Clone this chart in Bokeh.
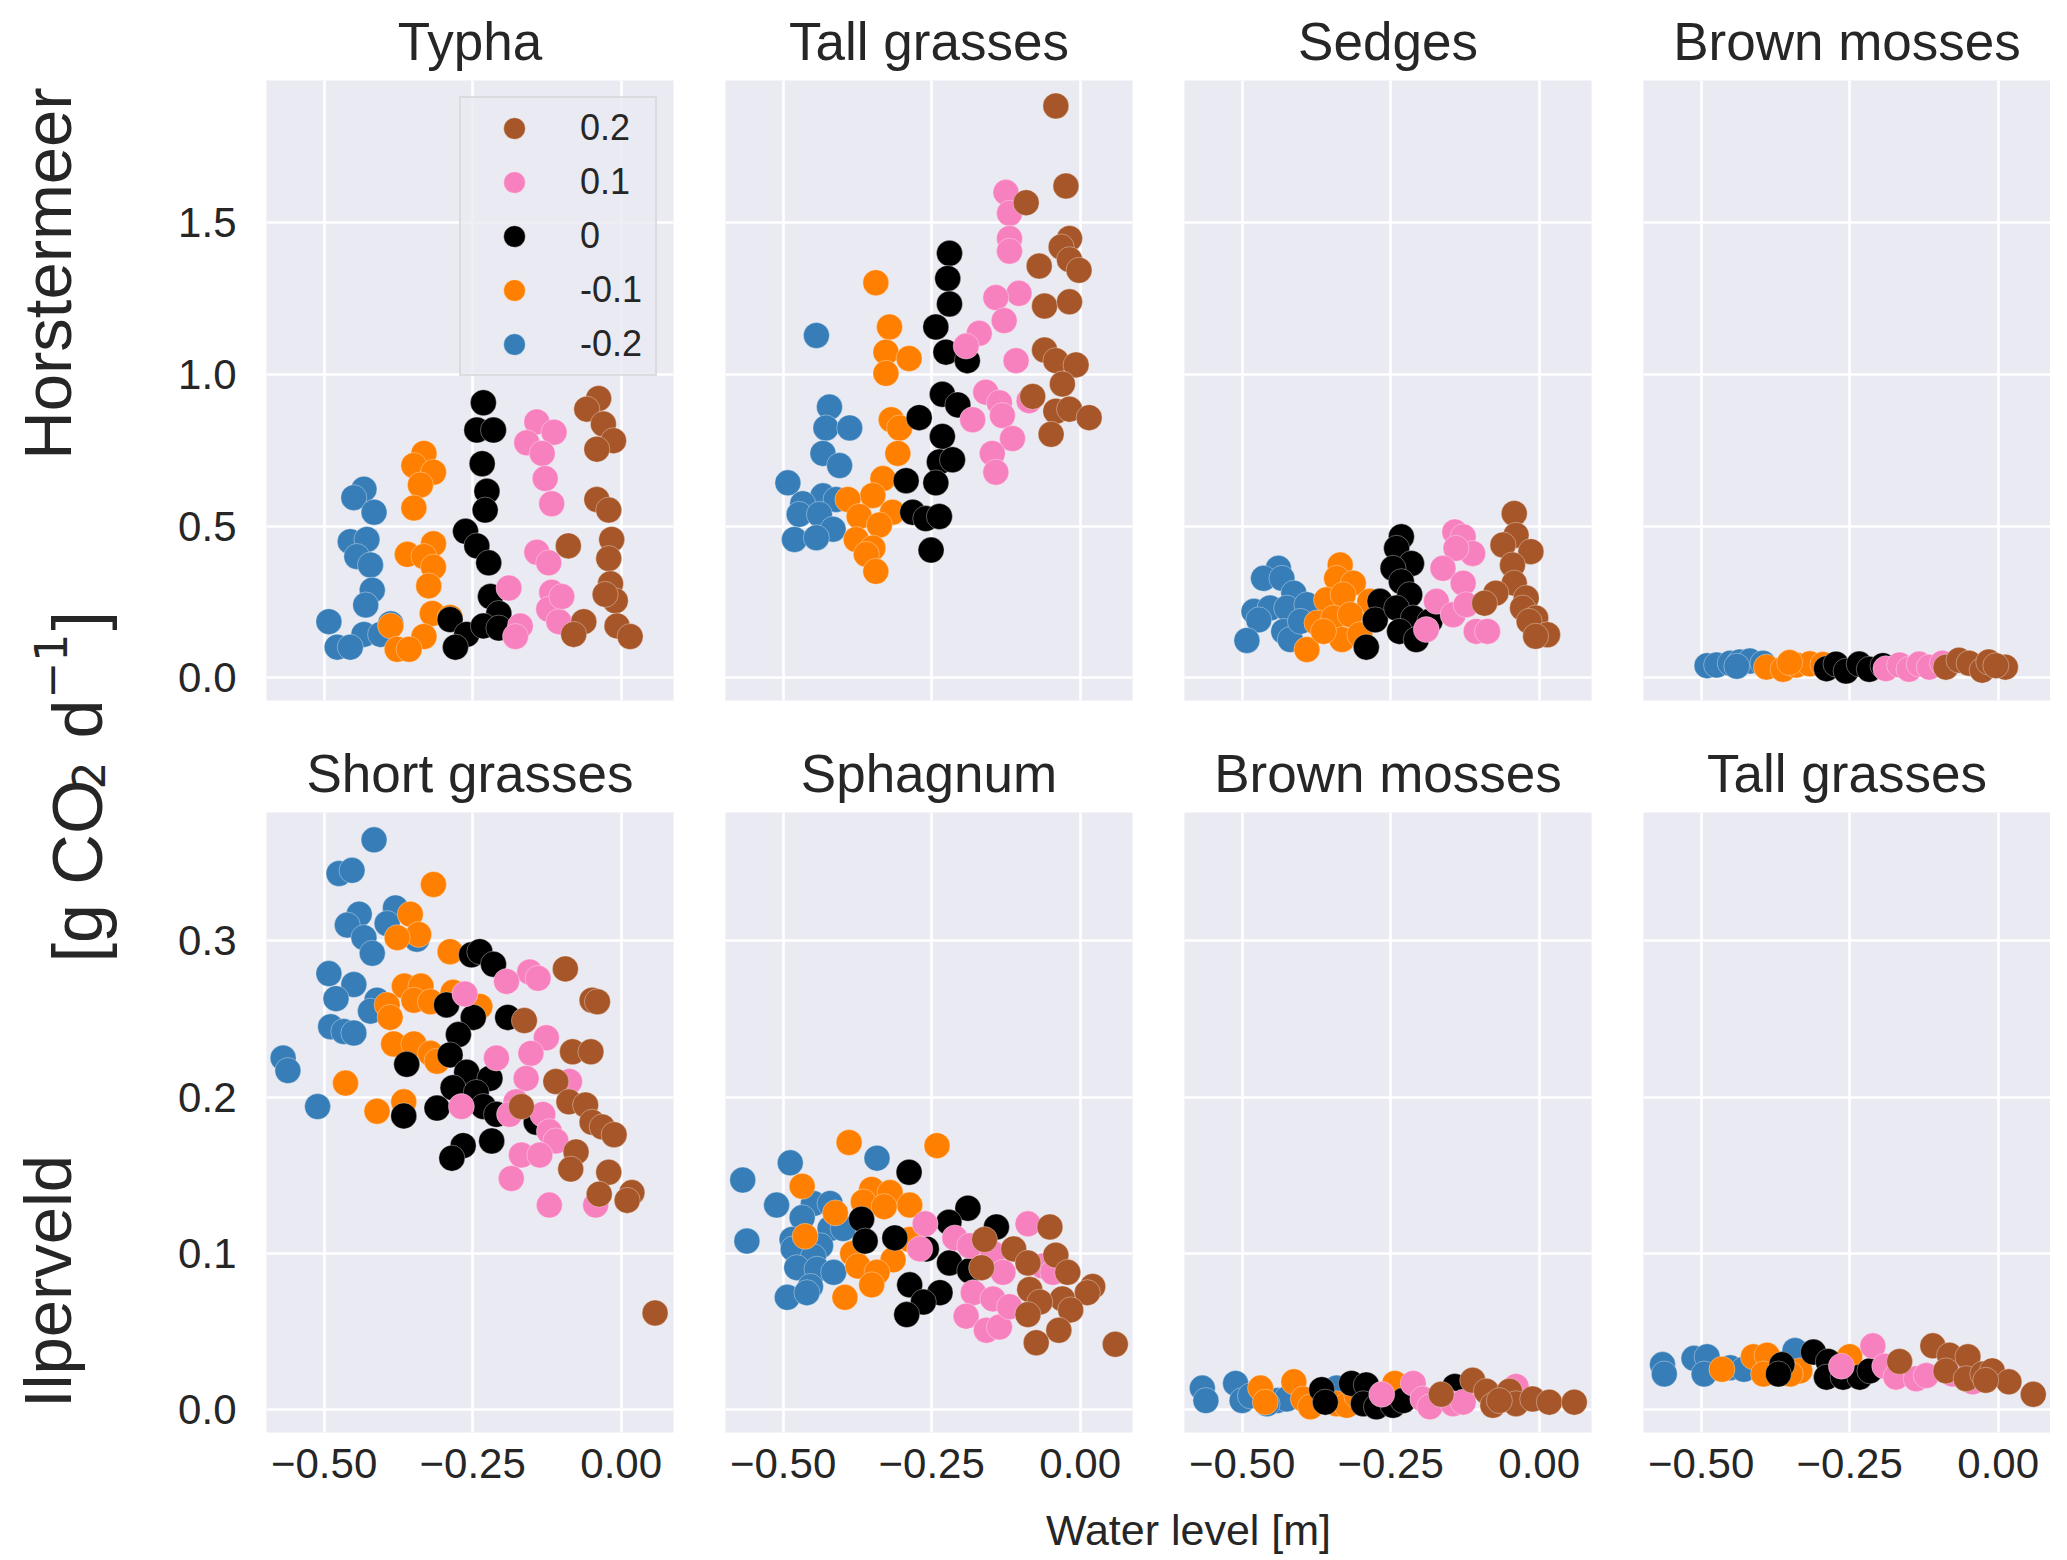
from math import pi

from bokeh.plotting import figure
from bokeh.layouts import row, column
from bokeh.models import Range1d, FixedTicker, NumeralTickFormatter, Legend, LegendItem, Label
from bokeh.embed import file_html
from bokeh.resources import INLINE

FONT = "Liberation Sans"
MATH_FONT = "DejaVu Sans"
TEXT = "#262626"

# water level offsets, drawn in this order (last one on top)
levels = ["-0.2", "-0.1", "0", "0.1", "0.2"]
level_colors = ["#377eb8", "#ff7f00", "#000000", "#f781bf", "#a65628"]

x_ticks = [-0.5, -0.25, 0.0]
x_tick_labels = {-0.5: "\u22120.50", -0.25: "\u22120.25", 0.0: "0.00"}
top_y_ticks = [0.0, 0.5, 1.0, 1.5]
bottom_y_ticks = [0.0, 0.1, 0.2, 0.3]

top_titles = ["Typha", "Tall grasses", "Sedges", "Brown mosses"]
bottom_titles = ["Short grasses", "Sphagnum", "Brown mosses", "Tall grasses"]
row_labels = ["Horstermeer", "Ilperveld"]
x_label = "Water level [m]"

# ---- Horstermeer (top row); each list holds one series per level ----
typha_x = [
    [-0.433, -0.450, -0.416, -0.456, -0.428, -0.445, -0.422, -0.419, -0.430, -0.492, -0.433, -0.478, -0.456, -0.405, -0.388],
    [-0.332, -0.349, -0.316, -0.338, -0.349, -0.316, -0.360, -0.332, -0.316, -0.324, -0.318, -0.388, -0.332, -0.377, -0.357, -0.288],
    [-0.232, -0.243, -0.215, -0.234, -0.226, -0.229, -0.262, -0.243, -0.223, -0.220, -0.206, -0.288, -0.260, -0.279, -0.232, -0.206],
    [-0.142, -0.113, -0.159, -0.133, -0.128, -0.117, -0.142, -0.122, -0.189, -0.117, -0.122, -0.105, -0.170, -0.178, -0.100],
    [-0.038, -0.058, -0.030, -0.013, -0.041, -0.041, -0.021, -0.089, -0.016, -0.021, -0.018, -0.010, -0.027, -0.063, -0.080, -0.007, 0.015],
]
typha_y = [
    [0.622, 0.594, 0.546, 0.449, 0.456, 0.400, 0.372, 0.289, 0.240, 0.185, 0.143, 0.101, 0.101, 0.143, 0.178],
    [0.740, 0.700, 0.678, 0.636, 0.560, 0.442, 0.407, 0.400, 0.365, 0.303, 0.212, 0.171, 0.136, 0.094, 0.094, 0.199],
    [0.907, 0.817, 0.817, 0.706, 0.615, 0.553, 0.483, 0.435, 0.379, 0.268, 0.212, 0.192, 0.143, 0.101, 0.171, 0.164],
    [0.844, 0.810, 0.775, 0.740, 0.657, 0.574, 0.414, 0.379, 0.296, 0.282, 0.226, 0.185, 0.171, 0.136, 0.268],
    [0.921, 0.886, 0.837, 0.782, 0.754, 0.588, 0.553, 0.435, 0.456, 0.393, 0.310, 0.254, 0.275, 0.185, 0.143, 0.171, 0.136],
]

tall_h_x = [
    [-0.444, -0.422, -0.428, -0.388, -0.433, -0.405, -0.492, -0.433, -0.467, -0.411, -0.473, -0.439, -0.416, -0.481, -0.444],
    [-0.344, -0.321, -0.327, -0.288, -0.327, -0.318, -0.304, -0.307, -0.332, -0.349, -0.391, -0.316, -0.372, -0.338, -0.377, -0.349, -0.360, -0.344],
    [-0.220, -0.223, -0.220, -0.243, -0.226, -0.190, -0.232, -0.206, -0.271, -0.232, -0.237, -0.215, -0.293, -0.243, -0.282, -0.260, -0.237, -0.251],
    [-0.125, -0.119, -0.119, -0.119, -0.103, -0.142, -0.128, -0.170, -0.192, -0.108, -0.159, -0.136, -0.086, -0.181, -0.131, -0.114, -0.148, -0.142],
    [-0.041, -0.024, -0.091, -0.018, -0.032, -0.018, -0.069, -0.002, -0.060, -0.018, -0.060, -0.041, -0.007, -0.030, -0.080, -0.041, -0.018, 0.015, -0.049],
]
tall_h_y = [
    [1.129, 0.893, 0.824, 0.824, 0.740, 0.700, 0.643, 0.600, 0.574, 0.588, 0.539, 0.539, 0.490, 0.456, 0.462],
    [1.303, 1.157, 1.074, 1.053, 1.004, 0.851, 0.824, 0.740, 0.657, 0.601, 0.588, 0.546, 0.532, 0.504, 0.456, 0.428, 0.407, 0.351],
    [1.400, 1.317, 1.233, 1.157, 1.074, 1.046, 0.935, 0.900, 0.858, 0.796, 0.712, 0.719, 0.650, 0.643, 0.546, 0.525, 0.532, 0.421],
    [1.601, 1.532, 1.449, 1.407, 1.268, 1.254, 1.178, 1.136, 1.094, 1.046, 0.942, 0.907, 0.914, 0.851, 0.865, 0.789, 0.740, 0.678],
    [1.886, 1.622, 1.567, 1.449, 1.421, 1.379, 1.358, 1.344, 1.226, 1.240, 1.081, 1.046, 1.032, 0.969, 0.928, 0.879, 0.886, 0.858, 0.803],
]

sedges_x = [
    [-0.439, -0.464, -0.433, -0.413, -0.480, -0.453, -0.472, -0.425, -0.391, -0.430, -0.492, -0.419, -0.402],
    [-0.335, -0.341, -0.313, -0.358, -0.330, -0.285, -0.374, -0.346, -0.318, -0.332, -0.391, -0.302, -0.363],
    [-0.232, -0.240, -0.215, -0.246, -0.232, -0.218, -0.268, -0.276, -0.240, -0.212, -0.235, -0.207, -0.291, -0.184],
    [-0.142, -0.128, -0.112, -0.140, -0.162, -0.128, -0.173, -0.145, -0.123, -0.190, -0.106, -0.087],
    [-0.042, -0.039, -0.061, -0.014, -0.045, -0.042, -0.073, -0.092, -0.022, -0.028, -0.006, -0.017, 0.014, -0.006],
]
sedges_y = [
    [0.361, 0.328, 0.328, 0.279, 0.219, 0.230, 0.191, 0.230, 0.241, 0.153, 0.123, 0.126, 0.186],
    [0.372, 0.328, 0.312, 0.257, 0.274, 0.252, 0.181, 0.197, 0.208, 0.126, 0.093, 0.142, 0.153],
    [0.465, 0.427, 0.377, 0.361, 0.317, 0.274, 0.252, 0.191, 0.230, 0.197, 0.153, 0.126, 0.101, 0.186],
    [0.481, 0.465, 0.410, 0.427, 0.361, 0.312, 0.252, 0.208, 0.241, 0.159, 0.153, 0.153],
    [0.542, 0.470, 0.438, 0.416, 0.372, 0.312, 0.279, 0.246, 0.263, 0.230, 0.197, 0.186, 0.142, 0.137],
]

brown_h_x = [
    [-0.490, -0.474, -0.451, -0.435, -0.418, -0.396, -0.440],
    [-0.390, -0.362, -0.340, -0.317, -0.295, -0.351],
    [-0.289, -0.273, -0.256, -0.234, -0.217, -0.194],
    [-0.189, -0.166, -0.150, -0.133, -0.116, -0.094],
    [-0.088, -0.066, -0.049, -0.027, -0.016, 0.012, -0.004],
]
brown_h_y = [
    [0.040, 0.042, 0.048, 0.052, 0.055, 0.048, 0.038],
    [0.035, 0.028, 0.042, 0.046, 0.044, 0.050],
    [0.030, 0.045, 0.022, 0.045, 0.028, 0.040],
    [0.030, 0.042, 0.028, 0.045, 0.035, 0.048],
    [0.035, 0.058, 0.048, 0.025, 0.052, 0.035, 0.040],
]

# ---- Ilperveld (bottom row) ----
short_i_x = [
    [-0.416, -0.475, -0.453, -0.380, -0.441, -0.461, -0.394, -0.433, -0.419, -0.492, -0.450, -0.480, -0.411, -0.422, -0.489, -0.467, -0.450, -0.569, -0.561, -0.511, -0.344],
    [-0.316, -0.355, -0.341, -0.377, -0.288, -0.365, -0.337, -0.349, -0.321, -0.394, -0.389, -0.283, -0.238, -0.383, -0.349, -0.321, -0.310, -0.464, -0.366, -0.411],
    [-0.252, -0.238, -0.215, -0.294, -0.249, -0.191, -0.274, -0.288, -0.260, -0.221, -0.283, -0.244, -0.361, -0.310, -0.232, -0.210, -0.143, -0.366, -0.218, -0.266, -0.285],
    [-0.154, -0.140, -0.193, -0.263, -0.126, -0.152, -0.210, -0.160, -0.087, -0.177, -0.269, -0.188, -0.132, -0.121, -0.110, -0.168, -0.137, -0.185, -0.121, -0.043],
    [-0.094, -0.049, -0.040, -0.163, -0.082, -0.051, -0.110, -0.088, -0.060, -0.168, -0.049, -0.032, -0.012, -0.076, -0.085, -0.021, 0.018, -0.037, 0.010, 0.057],
]
short_i_y = [
    [0.3645, 0.343, 0.345, 0.321, 0.317, 0.310, 0.311, 0.302, 0.292, 0.279, 0.272, 0.263, 0.262, 0.255, 0.245, 0.242, 0.241, 0.225, 0.217, 0.194, 0.301],
    [0.336, 0.317, 0.304, 0.302, 0.293, 0.271, 0.271, 0.262, 0.261, 0.259, 0.251, 0.267, 0.258, 0.234, 0.234, 0.228, 0.223, 0.209, 0.197, 0.191],
    [0.291, 0.293, 0.285, 0.259, 0.251, 0.251, 0.240, 0.227, 0.216, 0.212, 0.206, 0.203, 0.221, 0.193, 0.194, 0.189, 0.184, 0.188, 0.172, 0.169, 0.161],
    [0.280, 0.276, 0.274, 0.266, 0.238, 0.228, 0.225, 0.212, 0.210, 0.197, 0.194, 0.189, 0.189, 0.178, 0.172, 0.163, 0.163, 0.148, 0.131, 0.131],
    [0.282, 0.262, 0.261, 0.249, 0.229, 0.229, 0.210, 0.197, 0.195, 0.194, 0.184, 0.181, 0.176, 0.165, 0.154, 0.152, 0.139, 0.138, 0.134, 0.062],
]

sphag_i_x = [
    [-0.568, -0.488, -0.342, -0.511, -0.561, -0.449, -0.421, -0.468, -0.421, -0.399, -0.485, -0.483, -0.437, -0.449, -0.477, -0.443, -0.415, -0.454, -0.493, -0.460],
    [-0.389, -0.241, -0.468, -0.351, -0.320, -0.365, -0.287, -0.330, -0.412, -0.463, -0.287, -0.383, -0.315, -0.374, -0.342, -0.351, -0.396],
    [-0.288, -0.189, -0.368, -0.221, -0.141, -0.312, -0.362, -0.259, -0.220, -0.186, -0.287, -0.236, -0.264, -0.292],
    [-0.261, -0.088, -0.270, -0.211, -0.186, -0.147, -0.063, -0.046, -0.130, -0.180, -0.147, -0.192, -0.158, -0.136, -0.119],
    [-0.051, -0.161, -0.112, -0.041, -0.088, -0.166, -0.021, 0.021, 0.012, -0.085, -0.030, -0.068, -0.016, -0.088, -0.036, -0.074, 0.059],
]
sphag_i_y = [
    [0.147, 0.158, 0.161, 0.131, 0.108, 0.132, 0.132, 0.123, 0.116, 0.116, 0.109, 0.103, 0.105, 0.098, 0.091, 0.090, 0.088, 0.079, 0.072, 0.075],
    [0.171, 0.169, 0.143, 0.141, 0.139, 0.133, 0.131, 0.130, 0.126, 0.111, 0.109, 0.100, 0.096, 0.092, 0.088, 0.080, 0.072],
    [0.152, 0.129, 0.122, 0.120, 0.117, 0.110, 0.108, 0.103, 0.094, 0.089, 0.080, 0.075, 0.069, 0.061],
    [0.119, 0.119, 0.103, 0.110, 0.105, 0.100, 0.092, 0.088, 0.088, 0.075, 0.071, 0.060, 0.051, 0.053, 0.066],
    [0.117, 0.109, 0.103, 0.099, 0.094, 0.091, 0.088, 0.079, 0.075, 0.077, 0.071, 0.069, 0.064, 0.061, 0.051, 0.043, 0.042],
]

brown_i_x = [
    [-0.567, -0.561, -0.511, -0.500, -0.486, -0.441, -0.425, -0.341, -0.458],
    [-0.469, -0.461, -0.413, -0.397, -0.385, -0.341, -0.324, -0.243, -0.307],
    [-0.366, -0.360, -0.316, -0.291, -0.296, -0.274, -0.246, -0.229, -0.142],
    [-0.265, -0.212, -0.196, -0.184, -0.145, -0.128, -0.039],
    [-0.165, -0.112, -0.089, -0.078, -0.050, -0.039, -0.011, 0.017, 0.059, -0.067],
]
brown_i_y = [
    [0.014, 0.006, 0.017, 0.006, 0.009, 0.006, 0.007, 0.014, 0.004],
    [0.014, 0.005, 0.018, 0.007, 0.002, 0.004, 0.003, 0.017, 0.009],
    [0.013, 0.005, 0.017, 0.016, 0.004, 0.002, 0.003, 0.006, 0.015],
    [0.010, 0.017, 0.007, 0.002, 0.004, 0.005, 0.015],
    [0.010, 0.019, 0.012, 0.003, 0.012, 0.004, 0.007, 0.005, 0.005, 0.006],
]

tall_i_x = [
    [-0.565, -0.562, -0.512, -0.490, -0.495, -0.451, -0.428, -0.342],
    [-0.465, -0.412, -0.389, -0.395, -0.334, -0.250, -0.350],
    [-0.364, -0.370, -0.311, -0.286, -0.289, -0.261, -0.233, -0.216],
    [-0.264, -0.211, -0.191, -0.172, -0.138, -0.121, -0.077, -0.043],
    [-0.166, -0.110, -0.082, -0.051, -0.088, -0.054, -0.026, -0.010, 0.018, 0.059, -0.021],
]
tall_i_y = [
    [0.029, 0.023, 0.033, 0.034, 0.023, 0.027, 0.026, 0.038],
    [0.026, 0.034, 0.035, 0.023, 0.025, 0.034, 0.023],
    [0.029, 0.023, 0.037, 0.031, 0.021, 0.021, 0.021, 0.025],
    [0.028, 0.041, 0.028, 0.021, 0.020, 0.022, 0.023, 0.018],
    [0.031, 0.041, 0.035, 0.034, 0.025, 0.020, 0.023, 0.025, 0.018, 0.010, 0.019],
]

top_data = [(typha_x, typha_y), (tall_h_x, tall_h_y), (sedges_x, sedges_y), (brown_h_x, brown_h_y)]
bottom_data = [(short_i_x, short_i_y), (sphag_i_x, sphag_i_y), (brown_i_x, brown_i_y), (tall_i_x, tall_i_y)]

# layout (pixels)
FRAME_W, FRAME_H = 407, 620
STRIP_W = 118
TOP_BORDER, MID_GAP, BOTTOM_BORDER = 79, 112, 66
TOP_H = TOP_BORDER + FRAME_H + 10
BOT_H = (MID_GAP - 10) + FRAME_H + BOTTOM_BORDER
H = TOP_H + BOT_H
TOTAL_W = STRIP_W + (148 + FRAME_W + 26) + 2 * (26 + FRAME_W + 26) + (26 + FRAME_W)

x_range = Range1d(-0.597, 0.088)
top_range = Range1d(-0.075, 1.97)
bottom_range = Range1d(-0.0144, 0.382)


def make_panel(title, xs, ys, y_range, y_ticks, col, is_bottom):
    p = figure(title=title, x_range=x_range, y_range=y_range,
               frame_width=FRAME_W, frame_height=FRAME_H,
               min_border_left=148 if col == 0 else 26,
               min_border_right=0 if col == 3 else 26,
               min_border_top=(MID_GAP - 10) if is_bottom else TOP_BORDER,
               min_border_bottom=BOTTOM_BORDER if is_bottom else 10,
               output_backend="svg", toolbar_location=None, tools="")
    p.background_fill_color = "#eaeaf2"
    p.border_fill_color = "white"
    p.outline_line_color = None

    p.title.align = "center"
    p.title.text_font = FONT
    p.title.text_font_size = "53px"
    p.title.text_font_style = "normal"
    p.title.text_color = TEXT
    p.title.standoff = 19

    p.xaxis.ticker = FixedTicker(ticks=x_ticks)
    p.xaxis.major_label_overrides = x_tick_labels
    p.yaxis.ticker = FixedTicker(ticks=y_ticks)
    p.yaxis.formatter = NumeralTickFormatter(format="0.0")
    for ax in p.xaxis + p.yaxis:
        ax.axis_line_color = None
        ax.major_tick_line_color = None
        ax.minor_tick_line_color = None
        ax.major_tick_out = 0
        ax.major_label_text_font = FONT
        ax.major_label_text_font_size = "42px"
        ax.major_label_text_color = TEXT
    p.xaxis.major_label_standoff = 16
    p.yaxis.major_label_standoff = 30
    p.xaxis.visible = is_bottom
    p.yaxis.visible = col == 0

    p.grid.grid_line_color = "white"
    p.grid.grid_line_width = 2.6

    renderers = []
    for lx, ly, color in zip(xs, ys, level_colors):
        r = p.scatter(lx, ly, size=26, fill_color=color, line_color="white",
                      line_width=0.5, line_alpha=0.7)
        renderers.append(r)
    return p, renderers


top_row = []
for col, (title, (xs, ys)) in enumerate(zip(top_titles, top_data)):
    p, rends = make_panel(title, xs, ys, top_range, top_y_ticks, col, False)
    if col == 0:
        items = [LegendItem(label=lab, renderers=[r]) for lab, r in zip(levels, rends)][::-1]
        legend = Legend(items=items, location="top_right")
        legend.margin = 16
        legend.padding = 3
        legend.spacing = 0
        legend.glyph_width = 100
        legend.glyph_height = 54
        legend.label_height = 54
        legend.label_width = 72
        legend.label_standoff = 16
        legend.label_text_font = FONT
        legend.label_text_font_size = "36px"
        legend.label_text_color = TEXT
        legend.background_fill_color = "#eaeaf2"
        legend.background_fill_alpha = 0.8
        legend.border_line_color = "#cccccc"
        legend.border_line_width = 2
        p.add_layout(legend)
    top_row.append(p)

bottom_row = []
for col, (title, (xs, ys)) in enumerate(zip(bottom_titles, bottom_data)):
    p, _ = make_panel(title, xs, ys, bottom_range, bottom_y_ticks, col, True)
    bottom_row.append(p)

# left strip with the row names and the shared y label
strip = figure(width=STRIP_W, height=H, x_range=Range1d(0, STRIP_W), y_range=Range1d(0, H),
               min_border=0, output_backend="svg", toolbar_location=None, tools="")
strip.axis.visible = False
strip.grid.visible = False
strip.outline_line_color = None
strip.background_fill_color = "white"

for text, y_top in [(row_labels[0], 273), (row_labels[1], 1281)]:
    strip.add_layout(Label(x=47, y=H - y_top, text=text, angle=pi / 2,
                           text_align="center", text_baseline="middle",
                           text_font=FONT, text_font_size="67px", text_color=TEXT))

# "[g CO2 d-1]" built from pieces so that the sub/superscripts sit like the original
ylabel_parts = [
    ("[g CO", 77, 962, FONT, "70px"),
    ("2", 88, 789, MATH_FONT, "44px"),
    ("d", 77, 738, FONT, "70px"),
    ("\u22121", 50, 698, MATH_FONT, "44px"),
    ("]", 77, 630, FONT, "70px"),
]
for text, bx, y_top, font, size in ylabel_parts:
    strip.add_layout(Label(x=bx, y=H - y_top, text=text, angle=pi / 2,
                           text_align="left", text_baseline="alphabetic",
                           text_font=font, text_font_size=size, text_color=TEXT))

XLAB_H = 62
xlab = figure(width=TOTAL_W, height=XLAB_H, x_range=Range1d(0, TOTAL_W), y_range=Range1d(0, XLAB_H),
              min_border=0, output_backend="svg", toolbar_location=None, tools="")
xlab.axis.visible = False
xlab.grid.visible = False
xlab.outline_line_color = None
xlab.add_layout(Label(x=1188, y=XLAB_H / 2, text=x_label, text_align="center",
                      text_baseline="middle", text_font=FONT, text_font_size="43px",
                      text_color=TEXT))

layout = column(row(strip, column(row(*top_row), row(*bottom_row))), xlab)

open("out.html", "w").write(file_html(layout, INLINE))
